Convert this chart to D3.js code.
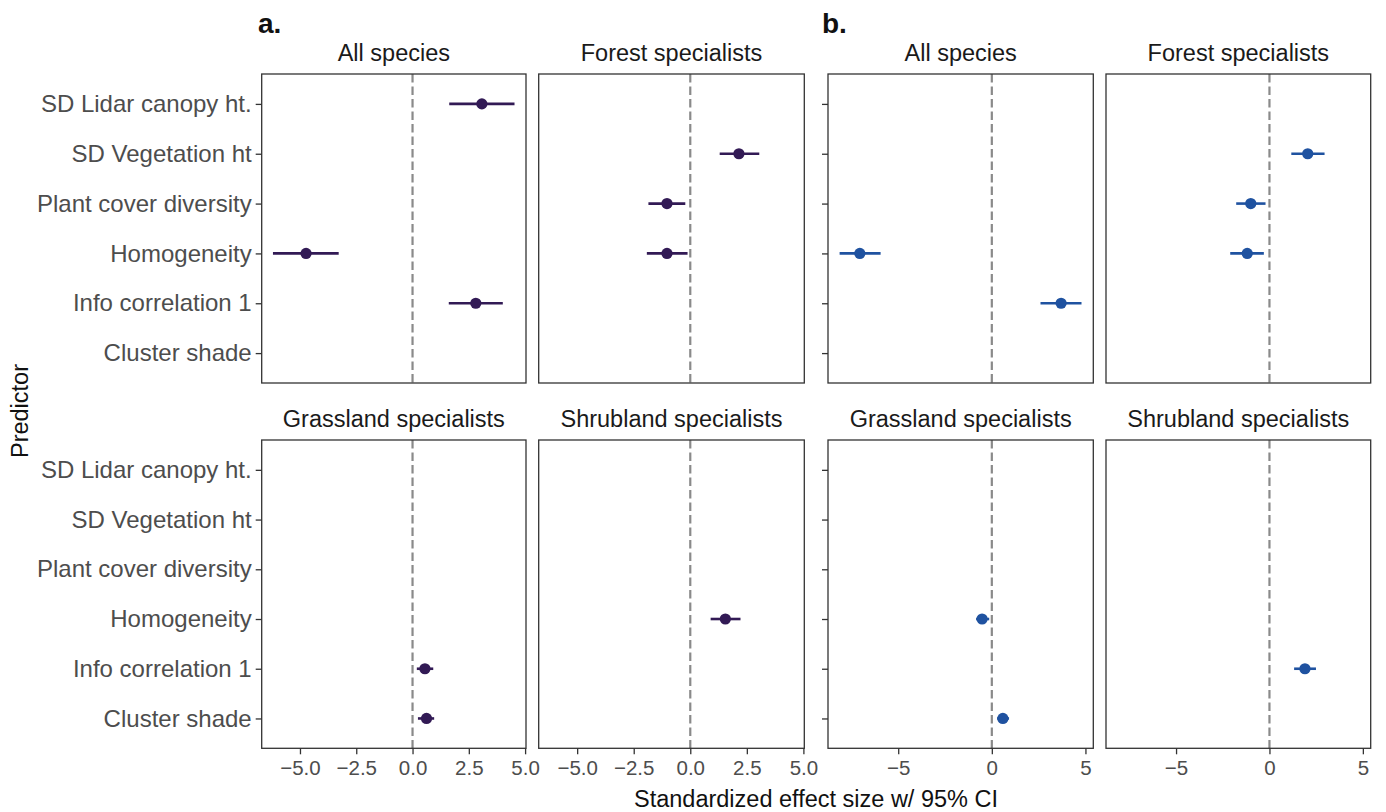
<!DOCTYPE html>
<html><head><meta charset="utf-8">
<script src="https://cdn.jsdelivr.net/npm/d3@7"></script>
<style>body{margin:0;background:#fff}svg{display:block}</style>
</head><body>
<script>
const predictors = ["SD Lidar canopy ht.","SD Vegetation ht","Plant cover diversity","Homogeneity","Info correlation 1","Cluster shade"];
const facets = ["All species","Forest specialists","Grassland specialists","Shrubland specialists"];

// Group a
const aFacet     = ["All species","All species","All species","Forest specialists","Forest specialists","Forest specialists","Grassland specialists","Grassland specialists","Shrubland specialists"];
const aPredictor = ["SD Lidar canopy ht.","Homogeneity","Info correlation 1","SD Vegetation ht","Plant cover diversity","Homogeneity","Info correlation 1","Cluster shade","Homogeneity"];
const aEst   = [3.08,-4.73,2.81,2.15,-1.03,-1.03,0.55,0.62,1.55];
const aLower = [1.63,-6.20,1.61,1.30,-1.85,-1.92,0.19,0.24,0.90];
const aUpper = [4.53,-3.28,4.01,3.05,-0.22,-0.12,0.92,0.96,2.22];
const aTicks = [-5,-2.5,0,2.5,5];

// Group b
const bFacet     = ["All species","All species","Forest specialists","Forest specialists","Forest specialists","Grassland specialists","Grassland specialists","Shrubland specialists"];
const bPredictor = ["Homogeneity","Info correlation 1","SD Vegetation ht","Plant cover diversity","Homogeneity","Homogeneity","Cluster shade","Info correlation 1"];
const bEst   = [-7.05,3.70,2.05,-1.00,-1.19,-0.52,0.59,1.90];
const bLower = [-8.13,2.60,1.17,-1.78,-2.10,-0.84,0.28,1.32];
const bUpper = [-5.94,4.79,2.95,-0.21,-0.30,-0.14,0.92,2.49];
const bTicks = [-5,0,5];

const W = 1386, H = 812;
const svg = d3.select("body").append("svg").attr("width", W).attr("height", H)
  .style("font-family", "Liberation Sans, Arial, Helvetica, sans-serif");

const rows = [[74, 383], [440, 748.3]];
const groups = [
  {label:"a.", labelX:258, cols:[[261.7,526],[538.7,804.3]], domain:[-6.70,5.04], ticks:aTicks, fmt:d3.format(".1f"), color:"#321A55", showY:true,
   data: aEst.map((e,i)=>({facet:aFacet[i], pred:aPredictor[i], est:e, lo:aLower[i], hi:aUpper[i]}))},
  {label:"b.", labelX:822, cols:[[828,1093.3],[1106,1370.7]], domain:[-8.75,5.42], ticks:bTicks, fmt:d3.format("d"), color:"#1F52A0", showY:false,
   data: bEst.map((e,i)=>({facet:bFacet[i], pred:bPredictor[i], est:e, lo:bLower[i], hi:bUpper[i]}))}
];

groups.forEach(g => {
  svg.append("text").attr("x", g.labelX).attr("y", 33).attr("font-size", 28).attr("font-weight", "bold")
    .attr("fill", "#111").text(g.label);
  facets.forEach((f, fi) => {
    const r = Math.floor(fi / 2), c = fi % 2;
    const [x0, x1] = g.cols[c];
    const [y0, y1] = rows[r];
    const x = d3.scaleLinear().domain(g.domain).range([x0, x1]);
    const y = d3.scalePoint().domain(predictors).range([y0, y1]).padding(0.6);
    const p = svg.append("g");
    // strip title
    p.append("text").attr("x", (x0 + x1) / 2).attr("y", y0 - 13).attr("text-anchor", "middle")
      .attr("font-size", 23.5).attr("fill", "#1a1a1a").text(f);
    // zero line
    p.append("line").attr("x1", x(0)).attr("x2", x(0)).attr("y1", y0).attr("y2", y1)
      .attr("stroke", "#8a8a8a").attr("stroke-width", 2.2).attr("stroke-dasharray", "8.5,4");
    // data
    const d = g.data.filter(v => v.facet === f);
    p.selectAll("line.ci").data(d).join("line").attr("class", "ci")
      .attr("x1", v => x(v.lo)).attr("x2", v => x(v.hi))
      .attr("y1", v => y(v.pred)).attr("y2", v => y(v.pred))
      .attr("stroke", g.color).attr("stroke-width", 2.6);
    p.selectAll("circle").data(d).join("circle")
      .attr("cx", v => x(v.est)).attr("cy", v => y(v.pred)).attr("r", 5.6).attr("fill", g.color);
    // border
    p.append("rect").attr("x", x0).attr("y", y0).attr("width", x1 - x0).attr("height", y1 - y0)
      .attr("fill", "none").attr("stroke", "#333").attr("stroke-width", 1.3);
    // y axis on left column
    if (c === 0) {
      const ya = d3.axisLeft(y).tickSize(6).tickPadding(4);
      if (!g.showY) ya.tickFormat("");
      const ag = p.append("g").attr("transform", `translate(${x0},0)`).call(ya);
      ag.select(".domain").remove();
      ag.selectAll(".tick line").attr("stroke", "#333").attr("stroke-width", 1.3);
      ag.selectAll(".tick text").attr("font-size", 24).attr("fill", "#4d4d4d")
        .attr("font-family", "Liberation Sans, Arial, sans-serif");
    }
    // x axis on bottom row
    if (r === 1) {
      const xa = d3.axisBottom(x).tickValues(g.ticks).tickFormat(g.fmt).tickSize(6).tickPadding(6);
      const ag = p.append("g").attr("transform", `translate(0,${y1})`).call(xa);
      ag.select(".domain").remove();
      ag.selectAll(".tick line").attr("stroke", "#333").attr("stroke-width", 1.3);
      ag.selectAll(".tick text").attr("font-size", 20.5).attr("fill", "#4d4d4d")
        .attr("font-family", "Liberation Sans, Arial, sans-serif");
    }
  });
});

svg.append("text").attr("x", 816).attr("y", 807).attr("text-anchor", "middle")
  .attr("font-size", 23.5).attr("fill", "#111").text("Standardized effect size w/ 95% CI");
svg.append("text").attr("transform", "translate(28,411) rotate(-90)").attr("text-anchor", "middle")
  .attr("font-size", 23.5).attr("fill", "#111").text("Predictor");
</script>
</body></html>
